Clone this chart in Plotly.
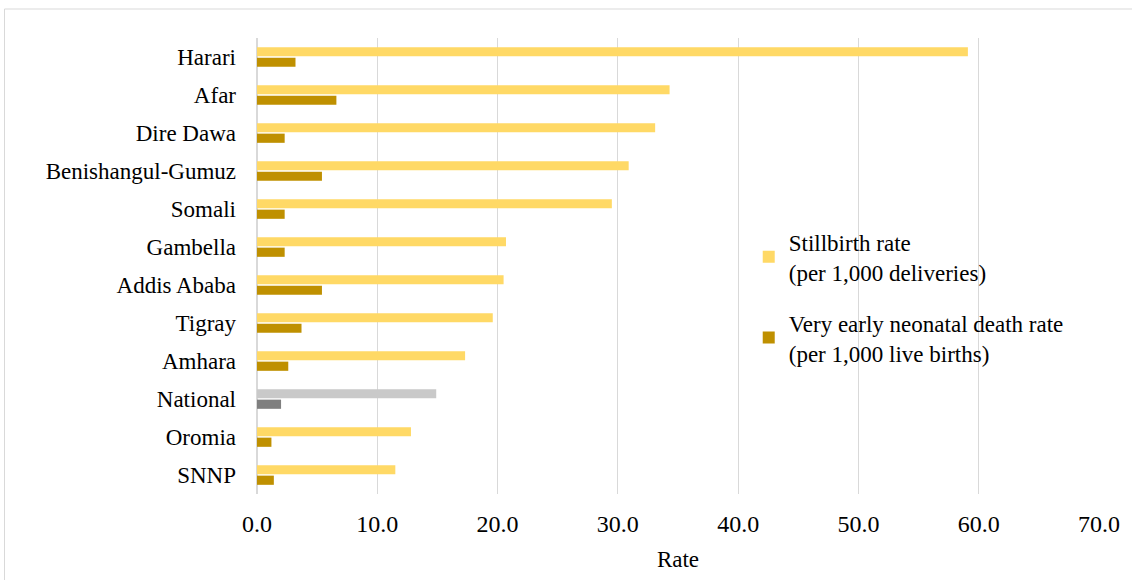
import plotly.graph_objects as go

regions = ["Harari", "Afar", "Dire Dawa", "Benishangul-Gumuz", "Somali", "Gambella",
           "Addis Ababa", "Tigray", "Amhara", "National", "Oromia", "SNNP"]
stillbirth = [59.1, 34.3, 33.1, 30.9, 29.5, 20.7, 20.5, 19.6, 17.3, 14.9, 12.8, 11.5]
very_early = [3.2, 6.6, 2.3, 5.4, 2.3, 2.3, 5.4, 3.7, 2.6, 2.0, 1.2, 1.4]

c_still = ["#C9C9C9" if r == "National" else "#FFD966" for r in regions]
c_vend = ["#7F7F7F" if r == "National" else "#BF9000" for r in regions]

fig = go.Figure()
fig.add_trace(go.Bar(y=regions, x=stillbirth, orientation="h",
                     name="Stillbirth rate<br>(per 1,000 deliveries)", legendgroup="a",
                     marker=dict(color=c_still, line=dict(width=0))))
fig.add_trace(go.Bar(y=regions, x=very_early, orientation="h",
                     name="Very early neonatal death rate<br>(per 1,000 live births)", legendgroup="b",
                     marker=dict(color=c_vend, line=dict(width=0))))

FS = 23
fig.update_layout(
    width=1132, height=580,
    margin=dict(l=257, r=28, t=38, b=86),
    paper_bgcolor="white", plot_bgcolor="white",
    barmode="group", bargap=0.45, bargroupgap=0.12,
    font=dict(family="Liberation Serif, Times New Roman, serif", size=FS, color="#000000"),
    xaxis=dict(range=[0, 70], dtick=10, tickformat=".1f", showgrid=True,
               gridcolor="#D9D9D9", gridwidth=1, zeroline=True, zerolinecolor="#D9D9D9",
               title=dict(text="Rate", font=dict(size=FS), standoff=14),
               tickfont=dict(size=24), ticks="", ticklabelstandoff=13, fixedrange=True),
    yaxis=dict(autorange="reversed", showgrid=False, ticks="", ticklen=0,
               tickfont=dict(size=FS), showline=False, ticklabelstandoff=20),
    legend=dict(x=0.584, y=0.60, xanchor="left", yanchor="top",
                font=dict(size=FS), tracegroupgap=18, bgcolor="rgba(0,0,0,0)",
                itemwidth=30),
    showlegend=True,
    shapes=[dict(type="rect", xref="paper", yref="paper",
                 x0=(3 - 257) / 847, x1=1.2, y0=-0.5, y1=1 + (38 - 9) / 456,
                 line=dict(color="#D9D9D9", width=1), fillcolor="rgba(0,0,0,0)", layer="below")],
)

fig.write_html("out.html")
